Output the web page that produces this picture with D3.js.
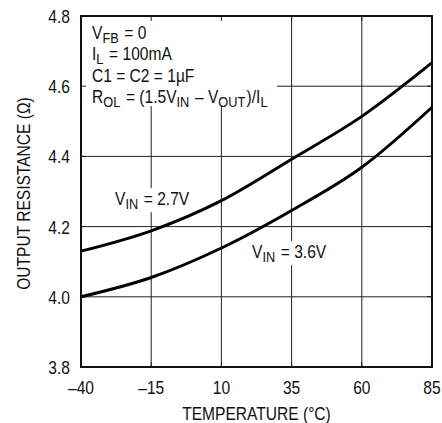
<!DOCTYPE html>
<html>
<head>
<meta charset="utf-8">
<script src="https://cdn.jsdelivr.net/npm/d3@7/dist/d3.min.js"></script>
<style>
html,body{margin:0;padding:0;background:#fff;}
svg{display:block;}
text{font-family:"Liberation Sans Narrow","Arial Narrow","Liberation Sans",Arial,sans-serif;fill:#111;}
</style>
</head>
<body>
<svg id="chart" width="442" height="423"></svg>
<script>
// Data
const temps = [-40, -15, 10, 35, 60, 85];
const rVin27 = [4.130, 4.188, 4.274, 4.392, 4.514, 4.667];
const rVin36 = [4.000, 4.055, 4.139, 4.246, 4.369, 4.540];
const xTicks = [-40, -15, 10, 35, 60, 85];
const yTicks = [3.8, 4.0, 4.2, 4.4, 4.6, 4.8];
const xTickLabels = ["–40", "–15", "10", "35", "60", "85"];
const yTickLabels = ["3.8", "4.0", "4.2", "4.4", "4.6", "4.8"];

const svg = d3.select("#chart");
const L = 81, R = 432, T = 16, B = 367;
const x = d3.scaleLinear().domain([-40, 85]).range([L, R]);
const y = d3.scaleLinear().domain([3.8, 4.8]).range([B, T]);
const FS = 17.5;
const SX = 0.89;

const gGrid = svg.append("g");
const gBg = svg.append("g");
const gTicks = svg.append("g");
const gCurves = svg.append("g");
const gText = svg.append("g");

// gridlines
const grid = gGrid.attr("stroke", "#222").attr("stroke-width", 1);
xTicks.slice(1, -1).forEach(t => {
  grid.append("line").attr("x1", x(t)).attr("x2", x(t)).attr("y1", T).attr("y2", B);
});
yTicks.slice(1, -1).forEach(t => {
  grid.append("line").attr("x1", L).attr("x2", R).attr("y1", y(t)).attr("y2", y(t));
});

// white box behind annotation block
gBg.append("rect").attr("x", L + 1).attr("y", T + 1).attr("width", 195).attr("height", 89).attr("fill", "#fff");

// inward ticks
gTicks.attr("stroke", "#222").attr("stroke-width", 1);
yTicks.forEach(t => {
  gTicks.append("line").attr("x1", L).attr("x2", L + 5).attr("y1", y(t)).attr("y2", y(t));
  gTicks.append("line").attr("x1", R - 5).attr("x2", R).attr("y1", y(t)).attr("y2", y(t));
});
xTicks.forEach(t => {
  gTicks.append("line").attr("x1", x(t)).attr("x2", x(t)).attr("y1", T).attr("y2", T + 5);
  gTicks.append("line").attr("x1", x(t)).attr("x2", x(t)).attr("y1", B - 5).attr("y2", B);
});

// frame
gTicks.append("rect").attr("x", L).attr("y", T).attr("width", R - L).attr("height", B - T)
  .attr("fill", "none").attr("stroke", "#111").attr("stroke-width", 2);

// text helpers (horizontally condensed)
function addText(parent, xp, yp, anchor, rot) {
  const tr = rot ? `translate(${xp},${yp}) rotate(-90) scale(${SX},1)` : `translate(${xp},${yp}) scale(${SX},1)`;
  const g = parent.append("g").attr("transform", tr);
  return g.append("text").attr("x", 0).attr("y", 0).attr("font-size", FS).attr("text-anchor", anchor || "start");
}
function sub(textSel, parts) {
  parts.forEach(p => {
    if (p.s) {
      textSel.append("tspan").attr("font-size", FS * 0.82).attr("dy", 4).text(p.t);
      textSel.append("tspan").attr("dy", -4).text("\u200A");
    } else {
      textSel.append("tspan").text(p.t);
    }
  });
}
function label(xp, yp, parts, bg) {
  const t = addText(gText, xp, yp);
  sub(t, parts);
  if (bg) {
    const bb = t.node().getBBox();
    gBg.append("rect").attr("x", xp + (bb.x - 3) * SX).attr("y", yp + bb.y - 1)
      .attr("width", (bb.width + 6) * SX).attr("height", bb.height + 1).attr("fill", "#fff");
  }
  return t;
}

// curves
const line = d3.line().x(d => x(d[0])).y(d => y(d[1])).curve(d3.curveMonotoneX);
[rVin27, rVin36].forEach(s => {
  gCurves.append("path").datum(temps.map((t, i) => [t, s[i]]))
    .attr("d", line).attr("fill", "none").attr("stroke", "#000").attr("stroke-width", 3);
});

// annotation block
label(92, 38.5, [{t: "V"}, {t: "FB", s: 1}, {t: " = 0"}], false);
label(92, 60, [{t: "I"}, {t: "L", s: 1}, {t: " = 100mA"}], false);
label(92, 81.5, [{t: "C1 = C2 = 1µF"}], false);
label(92, 103, [{t: "R"}, {t: "OL", s: 1}, {t: " = (1.5V"}, {t: "IN", s: 1}, {t: " – V"}, {t: "OUT", s: 1}, {t: ")/I"}, {t: "L", s: 1}], false);

label(115, 205, [{t: "V"}, {t: "IN", s: 1}, {t: " = 2.7V"}], true);
label(252, 258, [{t: "V"}, {t: "IN", s: 1}, {t: " = 3.6V"}], true);

// tick labels
yTicks.forEach((d, i) => addText(gText, 70, y(d) + 7, "end").text(yTickLabels[i]));
xTicks.forEach((d, i) => addText(gText, x(d), 394, "middle").text(xTickLabels[i]));

// axis titles
addText(gText, (L + R) / 2, 420, "middle").text("TEMPERATURE (°C)");
addText(gText, 30, (T + B) / 2 + 2, "middle", true).text("OUTPUT RESISTANCE (Ω)");
</script>
</body>
</html>
